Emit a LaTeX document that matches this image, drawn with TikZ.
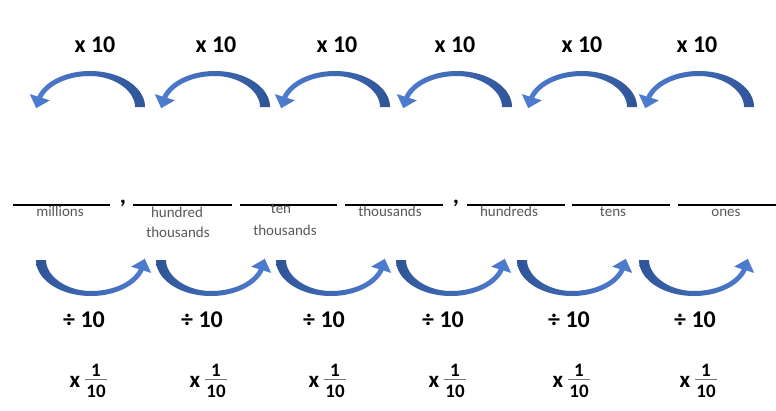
\documentclass[tikz,border=0pt]{standalone}
\usepackage{fontspec}
\setmainfont{Carlito}
\definecolor{arrdark}{HTML}{2F5597}
\definecolor{arrlight}{HTML}{4F7ED2}
\definecolor{labgray}{HTML}{595959}
\newcommand\arrowshape[3]{%
  \shade[left color=#2,right color=#3]
    plot[domain=0:163,samples=60,variable=\t] ({(#1)*55*cos(\t)},{-(#1)*36*sin(\t)})
    -- ({(#1)*(-60.2)},{(#1)*(-12.95)})
    -- ({(#1)*(-53.8)},{(#1)*(1.2)})
    -- ({(#1)*(-40.2)},{(#1)*(-6.65)})
    -- plot[domain=163:0,samples=60,variable=\t] ({(#1)*(50-5*pow(max(0,cos(\t)),2))*cos(\t)},{-(#1)*(31-5*pow(max(0,cos(\t)),2))*sin(\t)})
    -- cycle;}
\tikzset{
  pics/toparrow/.style={code={\arrowshape{1}{arrlight}{arrdark}}},
  pics/botarrow/.style={code={\arrowshape{-1}{arrdark}{arrlight}}},
}
\begin{document}
\begin{tikzpicture}[x=1pt,y=-1pt,
  big/.style={font=\fontsize{24}{28}\selectfont\bfseries, inner sep=0pt, anchor=base},
  fracfont/.style={font=\fontsize{19}{22}\selectfont\bfseries, inner sep=0pt, anchor=base},
  xfont/.style={font=\fontsize{23}{26}\selectfont\bfseries, inner sep=0pt, anchor=base},
  lab/.style={font=\fontsize{15}{18}\selectfont, text=labgray, inner sep=0pt, anchor=base},
  blank/.style={line width=2pt, draw=black},
  fracbar/.style={line width=1.2pt, draw=black!55},
]
\useasboundingbox (0,0) rectangle (776,410);
\fill[white] (0,0) rectangle (776,410);

% x 10 labels
\foreach \i/\x in {1/95,2/216,3/337,4/455,5/582,6/697}
  \node[big] (t\i) at (\x,52) {x 10};

% top arrows
\foreach \x in {90,215,335,457,582,699}
  \pic at (\x,107) {toparrow};

% blanks
\foreach \a/\b in {13/110,133/232,240/337,345/443,467/565,572/670,678/776}
  \draw[blank] (\a,205) -- (\b,205);
\node[big] (c1) at (123,203.5) {,};
\node[big] (c2) at (456,203.5) {,};

% place value labels
\node[lab] (l1) at (60,216) {millions};
\node[lab] (l2a) at (177,217) {hundred};
\node[lab] (l2b) at (178,237.5) {thousands};
\node[lab] (l3a) at (281,213) {ten};
\node[lab] (l3b) at (285,235.5) {thousands};
\node[lab] (l4) at (390,216) {thousands};
\node[lab] (l5) at (509,216) {hundreds};
\node[lab] (l6) at (613,216) {tens};
\node[lab] (l7) at (726,216) {ones};

% bottom arrows
\foreach \x in {91,211,331,451,572,694}
  \pic at (\x,260) {botarrow};

% divide labels
\foreach \i/\x in {1/84,2/202,3/324,4/443,5/569,6/695}
  \node[big] (d\i) at (\x,327) {÷ 10};

% x 1/10 labels
\foreach \i/\g in {1/87,2/207,3/326,4/446,5/570,6/697}{
  \node[xfont] (fx\i) at (\g-12,387) {x};
  \node[fracfont] (fn\i) at (\g+9,376.5) {1};
  \node[fracfont] (fd\i) at (\g+9,397.5) {10};
  \draw[fracbar] (\g-2,379.5) -- (\g+20,379.5);
}
\end{tikzpicture}
\end{document}
